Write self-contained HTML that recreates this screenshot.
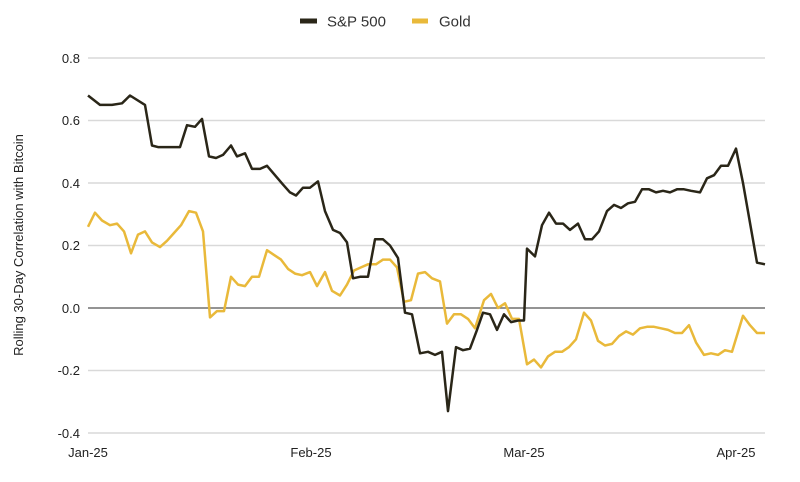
<!DOCTYPE html>
<html><head><meta charset="utf-8"><style>
html,body{margin:0;padding:0;background:#fff;}
svg{display:block;font-family:"Liberation Sans",Arial,sans-serif;}
</style></head><body>
<svg id="c" width="800" height="482" viewBox="0 0 800 482">
<g stroke="#d9d9d9" stroke-width="1.5">
<line x1="88" x2="765" y1="58" y2="58"/><line x1="88" x2="765" y1="120.5" y2="120.5"/>
<line x1="88" x2="765" y1="183" y2="183"/><line x1="88" x2="765" y1="245.5" y2="245.5"/>
<line x1="88" x2="765" y1="370.5" y2="370.5"/><line x1="88" x2="765" y1="433" y2="433"/>
</g>
<line x1="88" x2="765" y1="308" y2="308" stroke="#555" stroke-width="1.2"/>
<g font-size="13" fill="#222" text-anchor="end">
<text x="80" y="63">0.8</text><text x="80" y="125">0.6</text><text x="80" y="188">0.4</text>
<text x="80" y="250">0.2</text><text x="80" y="313">0.0</text><text x="80" y="375">-0.2</text><text x="80" y="438">-0.4</text>
</g>
<g font-size="13" fill="#222" text-anchor="middle">
<text x="88" y="457">Jan-25</text><text x="311" y="457">Feb-25</text><text x="524" y="457">Mar-25</text><text x="736" y="457">Apr-25</text>
</g>
<text transform="translate(23,245) rotate(-90)" font-size="13" fill="#222" text-anchor="middle">Rolling 30-Day Correlation with Bitcoin</text>
<line x1="300" x2="317" y1="21" y2="21" stroke="#2a2618" stroke-width="5"/>
<text x="327" y="26.5" font-size="15" fill="#333">S&amp;P 500</text>
<line x1="412" x2="428" y1="21" y2="21" stroke="#e9b93a" stroke-width="5"/>
<text x="439" y="26.5" font-size="15" fill="#333">Gold</text>
<path id="gold" fill="none" stroke="#e9b93a" stroke-width="2.5" stroke-linejoin="round"/>
<path id="sp" fill="none" stroke="#2a2618" stroke-width="2.5" stroke-linejoin="round"/>
</svg>
<script>
var sp=[88,0.68,100,0.65,112,0.65,122,0.655,130,0.68,145,0.65,152,0.52,158,0.515,180,0.515,187,0.585,195,0.58,202,0.605,209,0.485,216,0.48,223,0.49,231,0.52,237,0.485,245,0.495,252,0.445,260,0.445,267,0.455,275,0.425,283,0.395,290,0.37,296,0.36,303,0.385,310,0.385,318,0.405,325,0.31,333,0.25,340,0.24,347,0.21,353,0.095,360,0.1,368,0.1,375,0.22,383,0.22,390,0.2,398,0.16,405,-0.015,412,-0.02,420,-0.145,428,-0.14,435,-0.15,442,-0.14,448,-0.33,456,-0.125,463,-0.135,470,-0.13,477,-0.07,483,-0.015,490,-0.02,497,-0.07,504,-0.02,511,-0.045,518,-0.04,524,-0.04,527,0.19,535,0.165,542,0.265,549,0.305,556,0.27,563,0.27,570,0.25,578,0.27,585,0.22,592,0.22,599,0.245,607,0.31,614,0.33,621,0.32,628,0.335,635,0.34,642,0.38,649,0.38,656,0.37,663,0.375,670,0.37,677,0.38,684,0.38,691,0.375,700,0.37,707,0.415,714,0.425,721,0.455,728,0.455,736,0.51,743,0.40,757,0.145,765,0.14];
var gd=[88,0.26,95,0.305,102,0.28,110,0.265,117,0.27,124,0.245,131,0.175,138,0.235,145,0.245,152,0.21,160,0.195,167,0.215,174,0.24,181,0.265,189,0.31,196,0.305,203,0.245,210,-0.03,217,-0.01,224,-0.01,231,0.1,238,0.075,245,0.07,252,0.1,259,0.1,267,0.185,274,0.17,281,0.155,288,0.125,295,0.11,302,0.105,310,0.115,317,0.07,325,0.115,332,0.055,340,0.04,347,0.075,354,0.12,361,0.13,368,0.14,376,0.14,383,0.155,390,0.155,397,0.13,404,0.02,411,0.025,418,0.11,425,0.115,432,0.095,440,0.085,447,-0.05,454,-0.02,461,-0.02,468,-0.035,475,-0.065,484,0.025,491,0.045,498,0.0,505,0.015,512,-0.035,519,-0.035,527,-0.18,534,-0.165,541,-0.19,548,-0.155,555,-0.14,562,-0.14,569,-0.125,576,-0.1,584,-0.015,591,-0.04,598,-0.105,605,-0.12,612,-0.115,619,-0.09,626,-0.075,633,-0.085,640,-0.065,647,-0.06,654,-0.06,661,-0.065,668,-0.07,675,-0.08,682,-0.08,689,-0.055,696,-0.11,704,-0.15,711,-0.145,718,-0.15,725,-0.135,732,-0.14,743,-0.025,750,-0.055,757,-0.08,765,-0.08];
function p(a){var s="";for(var i=0;i<a.length;i+=2){s+=(i?"L":"M")+a[i]+","+(308-a[i+1]*312.5).toFixed(1);}return s;}
document.getElementById("sp").setAttribute("d",p(sp));
document.getElementById("gold").setAttribute("d",p(gd));
</script>
</body></html>
